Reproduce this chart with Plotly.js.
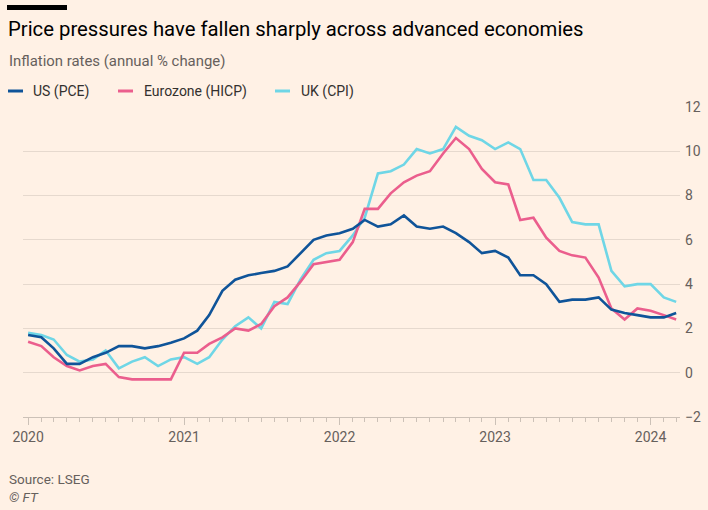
<!DOCTYPE html>
<html>
<head>
<meta charset="utf-8">
<script src="https://cdn.plot.ly/plotly-3.0.1.min.js"></script>
<style>
html,body{margin:0;padding:0;background:#FFF1E5;}
#chart{width:708px;height:510px;}
</style>
</head>
<body>
<div id="chart"></div>
<script>
// ---- data ----
const startYear = 2020, startMonth = 1, monthCount = 51; // Jan 2020 .. Mar 2024
const seriesNames = ["US (PCE)", "Eurozone (HICP)", "UK (CPI)"];
const seriesColors = ["#0F5499", "#EB5E8D", "#6FD6E6"];

const usPCE = [1.7,1.6,1.1,0.4,0.4,0.7,0.9,1.2,1.2,1.1,1.2,1.35,
  1.55,1.9,2.6,3.7,4.2,4.4,4.5,4.6,4.8,5.4,6.0,6.2,
  6.3,6.5,6.9,6.6,6.7,7.1,6.6,6.5,6.6,6.3,5.9,5.4,
  5.5,5.2,4.4,4.4,4.0,3.2,3.3,3.3,3.4,2.85,2.7,2.6,
  2.5,2.5,2.7];
const ezHICP = [1.4,1.2,0.7,0.3,0.1,0.3,0.4,-0.2,-0.3,-0.3,-0.3,-0.3,
  0.9,0.9,1.3,1.6,2.0,1.9,2.2,3.0,3.4,4.1,4.9,5.0,
  5.1,5.9,7.4,7.4,8.1,8.6,8.9,9.1,9.9,10.6,10.1,9.2,
  8.6,8.5,6.9,7.0,6.1,5.5,5.3,5.2,4.3,2.9,2.4,2.9,
  2.8,2.6,2.4];
const ukCPI = [1.8,1.7,1.5,0.8,0.5,0.6,1.0,0.2,0.5,0.7,0.3,0.6,
  0.7,0.4,0.7,1.5,2.1,2.5,2.0,3.2,3.1,4.2,5.1,5.4,
  5.5,6.2,7.0,9.0,9.1,9.4,10.1,9.9,10.1,11.1,10.7,10.5,
  10.1,10.4,10.1,8.7,8.7,7.9,6.8,6.7,6.7,4.6,3.9,4.0,
  4.0,3.4,3.2];
const yTickVals = [-2,0,2,4,6,8,10,12];
const xTickVals = ["2020-01-01","2021-01-01","2022-01-01","2023-01-01","2024-01-01"];
const xTickText = ["2020","2021","2022","2023","2024"];

const titleText = "Price pressures have fallen sharply across advanced economies";
const subtitleText = "Inflation rates (annual % change)";
const sourceText = "Source: LSEG";
const creditText = "<i>© FT</i>";

// ---- build dates ----
const dates = [];
for (let i = 0; i < monthCount; i++) {
  const m = startMonth - 1 + i;
  const y = startYear + Math.floor(m / 12);
  const mm = (m % 12) + 1;
  dates.push(y + "-" + String(mm).padStart(2, "0") + "-01");
}

const W = 708, H = 510;
const M = {l: 23, r: 28, t: 107, b: 93};
const PW = W - M.l - M.r, PH = H - M.t - M.b;
const px = x => (x - M.l) / PW;          // pixel -> paper x
const py = y => (H - M.b - y) / PH;      // pixel -> paper y

const FONT = "Roboto, 'Open Sans', sans-serif";
const allSeries = [usPCE, ezHICP, ukCPI];

const traces = allSeries.map((vals, i) => ({
  x: dates, y: vals, type: "scatter", mode: "lines", name: seriesNames[i],
  line: {color: seriesColors[i], width: 2.6}, hoverinfo: "skip"
}));
// draw order: UK first (back), then Eurozone, then US on top
const ordered = [traces[2], traces[1], traces[0]];

// legend built from names/colours
const legendKeyX = [8, 118, 275];
const legendTextX = [31, 142, 299];
const legendY = 91;
const shapes = [
  {type: "rect", xref: "paper", yref: "paper", x0: px(7), x1: px(67), y0: py(10), y1: py(5),
   fillcolor: "#000000", line: {width: 0}}
];
const annotations = [
  {text: subtitleText, xref: "paper", yref: "paper", x: px(7), y: py(61), xanchor: "left", yanchor: "middle",
   showarrow: false, font: {family: FONT, size: 14.9, color: "#66605C"}},
  {text: sourceText, xref: "paper", yref: "paper", x: px(7), y: py(479), xanchor: "left", yanchor: "middle",
   showarrow: false, font: {family: FONT, size: 13.5, color: "#66605C"}},
  {text: creditText, xref: "paper", yref: "paper", x: px(7), y: py(497), xanchor: "left", yanchor: "middle",
   showarrow: false, font: {family: FONT, size: 13.5, color: "#66605C"}}
];
seriesNames.forEach((n, i) => {
  shapes.push({type: "line", xref: "paper", yref: "paper",
    x0: px(legendKeyX[i]), x1: px(legendKeyX[i] + 15), y0: py(legendY), y1: py(legendY),
    line: {color: seriesColors[i], width: 3}});
  annotations.push({text: n, xref: "paper", yref: "paper", x: px(legendTextX[i]), y: py(legendY),
    xanchor: "left", yanchor: "middle", showarrow: false,
    font: {family: FONT, size: 14, color: "#33302E"}});
});

const layout = {
  width: W, height: H,
  paper_bgcolor: "#FFF1E5", plot_bgcolor: "#FFF1E5",
  margin: M,
  showlegend: false,
  font: {family: FONT, color: "#66605C"},
  title: {text: titleText, xref: "container", yref: "container", x: 8 / W, xanchor: "left",
    y: 1 - 29 / H, yanchor: "middle", font: {family: FONT, size: 20.3, color: "#000000"}},
  xaxis: {
    type: "date", range: ["2019-12-20", "2024-03-10"],
    tickvals: xTickVals, ticktext: xTickText,
    ticks: "outside", ticklen: 7, tickwidth: 1, tickcolor: "#CCC1B7",
    showgrid: false, zeroline: false,
    showline: true, linecolor: "#CCC1B7", linewidth: 1,
    tickfont: {family: FONT, size: 14, color: "#66605C"},
    minor: {dtick: "M1", tick0: "2020-01-01", ticks: "outside", ticklen: 4, tickcolor: "#CCC1B7", showgrid: false},
    fixedrange: true
  },
  yaxis: {
    range: [-2, 12], side: "right", tickvals: yTickVals,
    showgrid: true, gridcolor: "#E6D9CE", gridwidth: 1,
    zeroline: false, showline: false, ticks: "",
    ticklabelstandoff: 4,
    tickfont: {family: FONT, size: 14, color: "#66605C"},
    fixedrange: true
  },
  shapes: shapes,
  annotations: annotations
};

Plotly.newPlot("chart", ordered, layout, {staticPlot: true, displayModeBar: false});
</script>
</body>
</html>
